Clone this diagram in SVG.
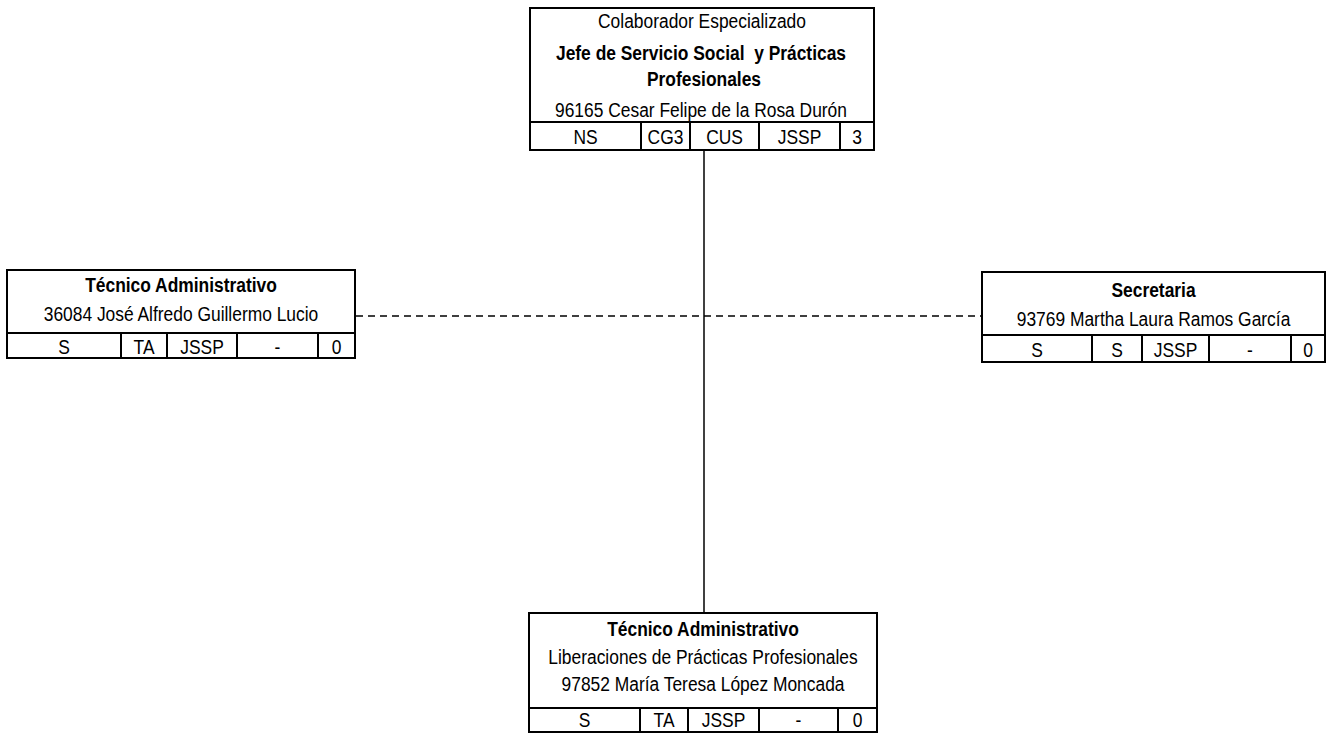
<svg xmlns="http://www.w3.org/2000/svg" width="1328" height="736" viewBox="0 0 1328 736">
<style>
text{font-family:"Liberation Sans",Arial,sans-serif;font-size:20px;fill:#000;text-anchor:middle;transform-box:fill-box;transform-origin:center;transform:scaleX(0.87)}
.b{font-weight:bold}
.box{fill:#fff;stroke:#000;stroke-width:2}
.sep{stroke:#000;stroke-width:2;fill:none}
.conn{stroke:#000;stroke-width:1.5;fill:none}
.dash{stroke-dasharray:7 5}
</style>
<rect width="1328" height="736" fill="#fff"/>
<g id="connectors">
<line class="conn" x1="704" y1="150" x2="704" y2="613"/>
<line class="conn dash" x1="356" y1="316" x2="982" y2="316"/>
</g>
<g id="n-jefe">
<rect class="box" x="530" y="8" width="344" height="142"/>
<line class="sep" x1="530" y1="122" x2="874" y2="122"/>
<line class="sep" x1="641" y1="122" x2="641" y2="150"/>
<line class="sep" x1="690" y1="122" x2="690" y2="150"/>
<line class="sep" x1="759" y1="122" x2="759" y2="150"/>
<line class="sep" x1="840" y1="122" x2="840" y2="150"/>
<text x="702" y="28">Colaborador Especializado</text>
<text class="b" x="701" y="60">Jefe de Servicio Social &#160;y Prácticas</text>
<text class="b" x="704" y="86">Profesionales</text>
<text x="701" y="117">96165 Cesar Felipe de la Rosa Durón</text>
<text x="585.5" y="144">NS</text>
<text x="665.5" y="144">CG3</text>
<text x="724.5" y="144">CUS</text>
<text x="799.5" y="144">JSSP</text>
<text x="857" y="144">3</text>
</g>
<g id="n-tecnico-1">
<rect class="box" x="7" y="270" width="348" height="88"/>
<line class="sep" x1="7" y1="333" x2="355" y2="333"/>
<line class="sep" x1="121" y1="333" x2="121" y2="358"/>
<line class="sep" x1="167" y1="333" x2="167" y2="358"/>
<line class="sep" x1="237" y1="333" x2="237" y2="358"/>
<line class="sep" x1="318" y1="333" x2="318" y2="358"/>
<text class="b" x="181" y="292">Técnico Administrativo</text>
<text x="181" y="321">36084 José Alfredo Guillermo Lucio</text>
<text x="64" y="354">S</text>
<text x="144" y="354">TA</text>
<text x="202" y="354">JSSP</text>
<text x="277.5" y="354">-</text>
<text x="336.5" y="354">0</text>
</g>
<g id="n-secretaria">
<rect class="box" x="982" y="272" width="343" height="90"/>
<line class="sep" x1="982" y1="335" x2="1325" y2="335"/>
<line class="sep" x1="1092" y1="335" x2="1092" y2="362"/>
<line class="sep" x1="1142" y1="335" x2="1142" y2="362"/>
<line class="sep" x1="1209" y1="335" x2="1209" y2="362"/>
<line class="sep" x1="1291" y1="335" x2="1291" y2="362"/>
<text class="b" x="1153.5" y="297">Secretaria</text>
<text x="1153.5" y="326">93769 Martha Laura Ramos García</text>
<text x="1037" y="357">S</text>
<text x="1117" y="357">S</text>
<text x="1175.5" y="357">JSSP</text>
<text x="1250" y="357">-</text>
<text x="1308" y="357">0</text>
</g>
<g id="n-tecnico-2">
<rect class="box" x="529" y="613" width="348" height="119"/>
<line class="sep" x1="529" y1="708" x2="877" y2="708"/>
<line class="sep" x1="640" y1="708" x2="640" y2="732"/>
<line class="sep" x1="688" y1="708" x2="688" y2="732"/>
<line class="sep" x1="759" y1="708" x2="759" y2="732"/>
<line class="sep" x1="838" y1="708" x2="838" y2="732"/>
<text class="b" x="703" y="636">Técnico Administrativo</text>
<text x="703" y="664">Liberaciones de Prácticas Profesionales</text>
<text x="703" y="691">97852 María Teresa López Moncada</text>
<text x="584.5" y="727">S</text>
<text x="664" y="727">TA</text>
<text x="723.5" y="727">JSSP</text>
<text x="798.5" y="727">-</text>
<text x="857.5" y="727">0</text>
</g>
</svg>
